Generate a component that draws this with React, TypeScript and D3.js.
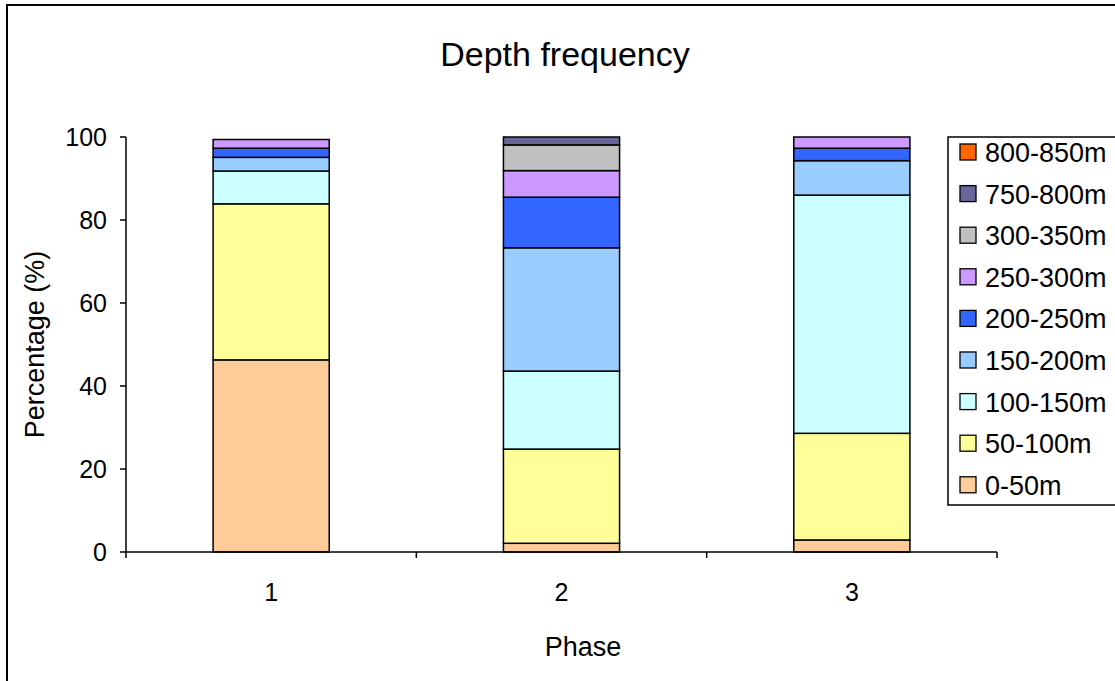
import React from "react";
import * as d3 from "d3";

const phases = ["1", "2", "3"];
const depthBands = [
  "0-50m",
  "50-100m",
  "100-150m",
  "150-200m",
  "200-250m",
  "250-300m",
  "300-350m",
  "750-800m",
  "800-850m",
];
const bandColors = [
  "#FFCC99",
  "#FFFF99",
  "#CCFFFF",
  "#99CCFF",
  "#3366FF",
  "#CC99FF",
  "#C0C0C0",
  "#666699",
  "#FF6600",
];
// percentage per depth band, one entry per phase
const phase1 = [46.3, 37.6, 7.9, 3.3, 2.2, 2.1, 0, 0, 0];
const phase2 = [2.1, 22.7, 18.8, 29.7, 12.2, 6.4, 6.2, 1.9, 0];
const phase3 = [2.9, 25.7, 57.4, 8.3, 3.0, 2.7, 0, 0, 0];
const yTicks = [0, 20, 40, 60, 80, 100];

const W = 1115;
const H = 681;
const M = { top: 137, right: 118, bottom: 129, left: 126 };
const FONT = "'Liberation Sans', Arial, sans-serif";

export default function App() {
  const rows = phases.map((p, i) => {
    const vals = [phase1, phase2, phase3][i];
    const r: any = { phase: p };
    depthBands.forEach((b, j) => (r[b] = vals[j]));
    return r;
  });
  const stacked = d3.stack().keys(depthBands)(rows);

  const x = d3
    .scaleBand()
    .domain(phases)
    .range([M.left, W - M.right])
    .paddingInner(0)
    .paddingOuter(0);
  const y = d3
    .scaleLinear()
    .domain([0, 100])
    .range([H - M.bottom - 0, M.top]);
  const barW = x.bandwidth() * 0.4;
  const y0 = y(0);

  const legendX = 948;
  const legendY = 137;
  const rowH = 41.6;

  return (
    <svg
      width={W}
      height={H}
      style={{ position: "absolute", left: 0, top: 0, background: "#fff" }}
      fontFamily={FONT}
    >
      <rect x={7} y={5} width={W + 20} height={H + 20} fill="#fff" stroke="#000" strokeWidth={2} />
      <text x={565} y={66} textAnchor="middle" fontSize={34}>
        Depth frequency
      </text>

      {stacked.map((layer, li) =>
        layer.map((d, pi) => {
          if (d[1] - d[0] <= 0) return null;
          return (
            <rect
              key={`${li}-${pi}`}
              x={(x(phases[pi]) as number) + (x.bandwidth() - barW) / 2}
              y={y(d[1])}
              width={barW}
              height={y(d[0]) - y(d[1])}
              fill={bandColors[li]}
              stroke="#000"
              strokeWidth={1.5}
            />
          );
        })
      )}

      {/* y axis */}
      <line x1={M.left} x2={M.left} y1={y(100)} y2={y0} stroke="#000" strokeWidth={1.5} />
      {yTicks.map((t) => (
        <g key={t}>
          <line x1={M.left - 6} x2={M.left} y1={y(t)} y2={y(t)} stroke="#000" strokeWidth={1.5} />
          <text x={M.left - 19} y={y(t) + 9} textAnchor="end" fontSize={25}>
            {t}
          </text>
        </g>
      ))}

      {/* x axis */}
      <line x1={M.left} x2={W - M.right} y1={y0} y2={y0} stroke="#000" strokeWidth={1.5} />
      {[...phases.map((p) => x(p) as number), W - M.right].map((v, i) => (
        <line key={i} x1={v} x2={v} y1={y0} y2={y0 + 6} stroke="#000" strokeWidth={1.5} />
      ))}
      {phases.map((p) => (
        <text
          key={p}
          x={(x(p) as number) + x.bandwidth() / 2}
          y={601}
          textAnchor="middle"
          fontSize={25}
        >
          {p}
        </text>
      ))}

      <text x={583} y={656} textAnchor="middle" fontSize={27}>
        Phase
      </text>
      <text
        transform={`translate(44,${(y(100) + y0) / 2}) rotate(-90)`}
        textAnchor="middle"
        fontSize={27}
      >
        Percentage (%)
      </text>

      {/* legend */}
      <rect
        x={legendX}
        y={legendY}
        width={200}
        height={368}
        fill="#fff"
        stroke="#000"
        strokeWidth={1.5}
      />
      {depthBands
        .map((b, i) => ({ b, i }))
        .reverse()
        .map(({ b, i }, k) => {
          const cy = legendY + 15 + k * rowH;
          return (
            <g key={b}>
              <rect
                x={960}
                y={cy - 8}
                width={16}
                height={16}
                fill={bandColors[i]}
                stroke="#000"
                strokeWidth={1.3}
              />
              <text x={985} y={cy + 10} fontSize={27}>
                {b}
              </text>
            </g>
          );
        })}
    </svg>
  );
}
